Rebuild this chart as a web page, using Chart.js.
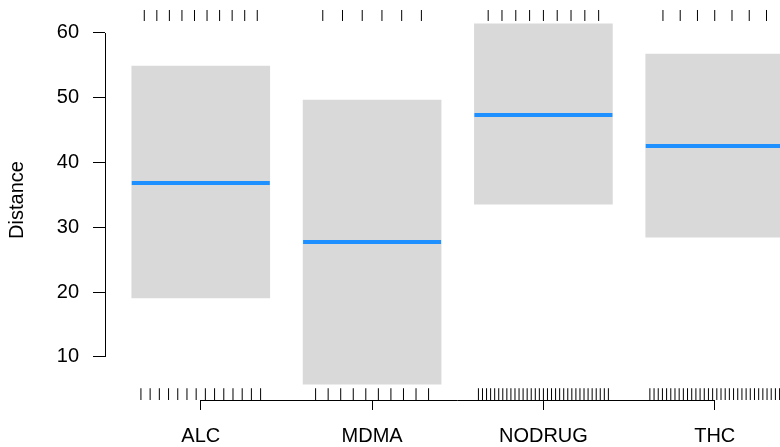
<!DOCTYPE html>
<html>
<head>
<meta charset="utf-8">
<script src="https://cdn.jsdelivr.net/npm/chart.js@4.4.1/dist/chart.umd.min.js"></script>
<style>
  html, body { margin: 0; padding: 0; background: #fff; overflow: hidden; }
  #wrap { width: 780px; height: 447px; }
</style>
</head>
<body>
<div id="wrap"><canvas id="distance"></canvas></div>
<script>
var categories = ['ALC', 'MDMA', 'NODRUG', 'THC'];
var means = [36.85, 27.75, 47.35, 42.55];
var lower = [19.1, 5.8, 33.6, 28.5];
var upper = [54.9, 49.65, 61.4, 56.75];
var topRugCounts = [10, 6, 9, 7];
var bottomRugCounts = [14, 10, 33, 32];
var yTicks = [10, 20, 30, 40, 50, 60];

var boxFrac = 0.806;

function rugPoints(counts, yValue) {
    var pts = [];
    for (var i = 0; i < counts.length; i++) {
        var n = counts[i];
        for (var k = 1; k <= n; k++) {
            pts.push({x: i + boxFrac * (k / (n + 1) - 0.5), y: yValue});
        }
    }
    return pts;
}

var boxes = [], meanPts = [];
for (var i = 0; i < categories.length; i++) {
    boxes.push({x: i, y: [lower[i], upper[i]]});
    meanPts.push({x: i, y: means[i]});
}

// R style axes: the line only runs between the first and last tick
var axisLines = {
    id: 'axisLines',
    afterDatasetsDraw: function (chart) {
        var ctx = chart.ctx, xs = chart.scales.x, ys = chart.scales.y;
        var area = chart.chartArea;
        ctx.save();
        ctx.strokeStyle = '#000';
        ctx.lineWidth = 1;
        ctx.beginPath();
        ctx.moveTo(area.left + 0.5, ys.getPixelForValue(yTicks[yTicks.length - 1]));
        ctx.lineTo(area.left + 0.5, ys.getPixelForValue(yTicks[0]));
        ctx.moveTo(xs.getPixelForValue(0), area.bottom + 0.5);
        ctx.lineTo(xs.getPixelForValue(categories.length - 1), area.bottom + 0.5);
        ctx.stroke();
        ctx.restore();
    }
};

var ctx = document.getElementById('distance');
var myChart = new Chart(ctx, {
    type: 'bar',
    data: {
        datasets: [{
            type: 'scatter',
            label: 'mean',
            data: meanPts,
            pointStyle: 'line',
            radius: 69,
            hoverRadius: 69,
            borderWidth: 4,
            borderColor: '#1E90FF',
            clip: false,
            order: 1
        }, {
            type: 'scatter',
            label: 'top rug',
            data: rugPoints(topRugCounts, 62.7),
            pointStyle: 'line',
            rotation: 90,
            radius: 5.5,
            borderWidth: 1,
            borderColor: '#000',
            order: 1
        }, {
            type: 'scatter',
            label: 'bottom rug',
            data: rugPoints(bottomRugCounts, 4.25),
            pointStyle: 'line',
            rotation: 90,
            radius: 6,
            borderWidth: 1,
            borderColor: '#000',
            order: 1
        }, {
            type: 'bar',
            label: 'range',
            data: boxes,
            backgroundColor: '#D9D9D9',
            borderWidth: 0,
            barThickness: 138,
            grouped: false,
            order: 3
        }]
    },
    plugins: [axisLines],
    options: {
        responsive: true,
        maintainAspectRatio: false,
        animation: false,
        layout: {padding: 0, autoPadding: false},
        events: [],
        plugins: {
            legend: {display: false},
            tooltip: {enabled: false}
        },
        scales: {
            x: {
                type: 'linear',
                min: -0.559,
                max: 3.381,
                offset: false,
                afterBuildTicks: function (scale) {
                    scale.ticks = categories.map(function (c, i) { return {value: i}; });
                },
                afterFit: function (scale) {
                    scale.height = 47;
                    scale.paddingLeft = 0;
                    scale.paddingRight = 0;
                },
                ticks: {
                    callback: function (v) { return categories[v]; },
                    color: '#000',
                    padding: 14,
                    maxRotation: 0,
                    autoSkip: false,
                    font: {family: 'Liberation Sans', size: 20}
                },
                grid: {drawOnChartArea: false, offset: false, tickLength: 10, color: '#000'},
                border: {display: false}
            },
            y: {
                min: 3.36,
                max: 65.09,
                afterBuildTicks: function (scale) {
                    scale.ticks = yTicks.map(function (v) { return {value: v}; });
                },
                afterFit: function (scale) {
                    scale.width = 105;
                    scale.paddingTop = 0;
                    scale.paddingBottom = 0;
                },
                ticks: {
                    color: '#000',
                    padding: 14,
                    font: {family: 'Liberation Sans', size: 20}
                },
                grid: {drawOnChartArea: false, tickLength: 12, color: '#000'},
                border: {display: false},
                title: {
                    display: true,
                    text: 'Distance',
                    color: '#000',
                    padding: {top: 5, bottom: 0},
                    font: {family: 'Liberation Sans', size: 20}
                }
            }
        }
    }
});
</script>
</body>
</html>
